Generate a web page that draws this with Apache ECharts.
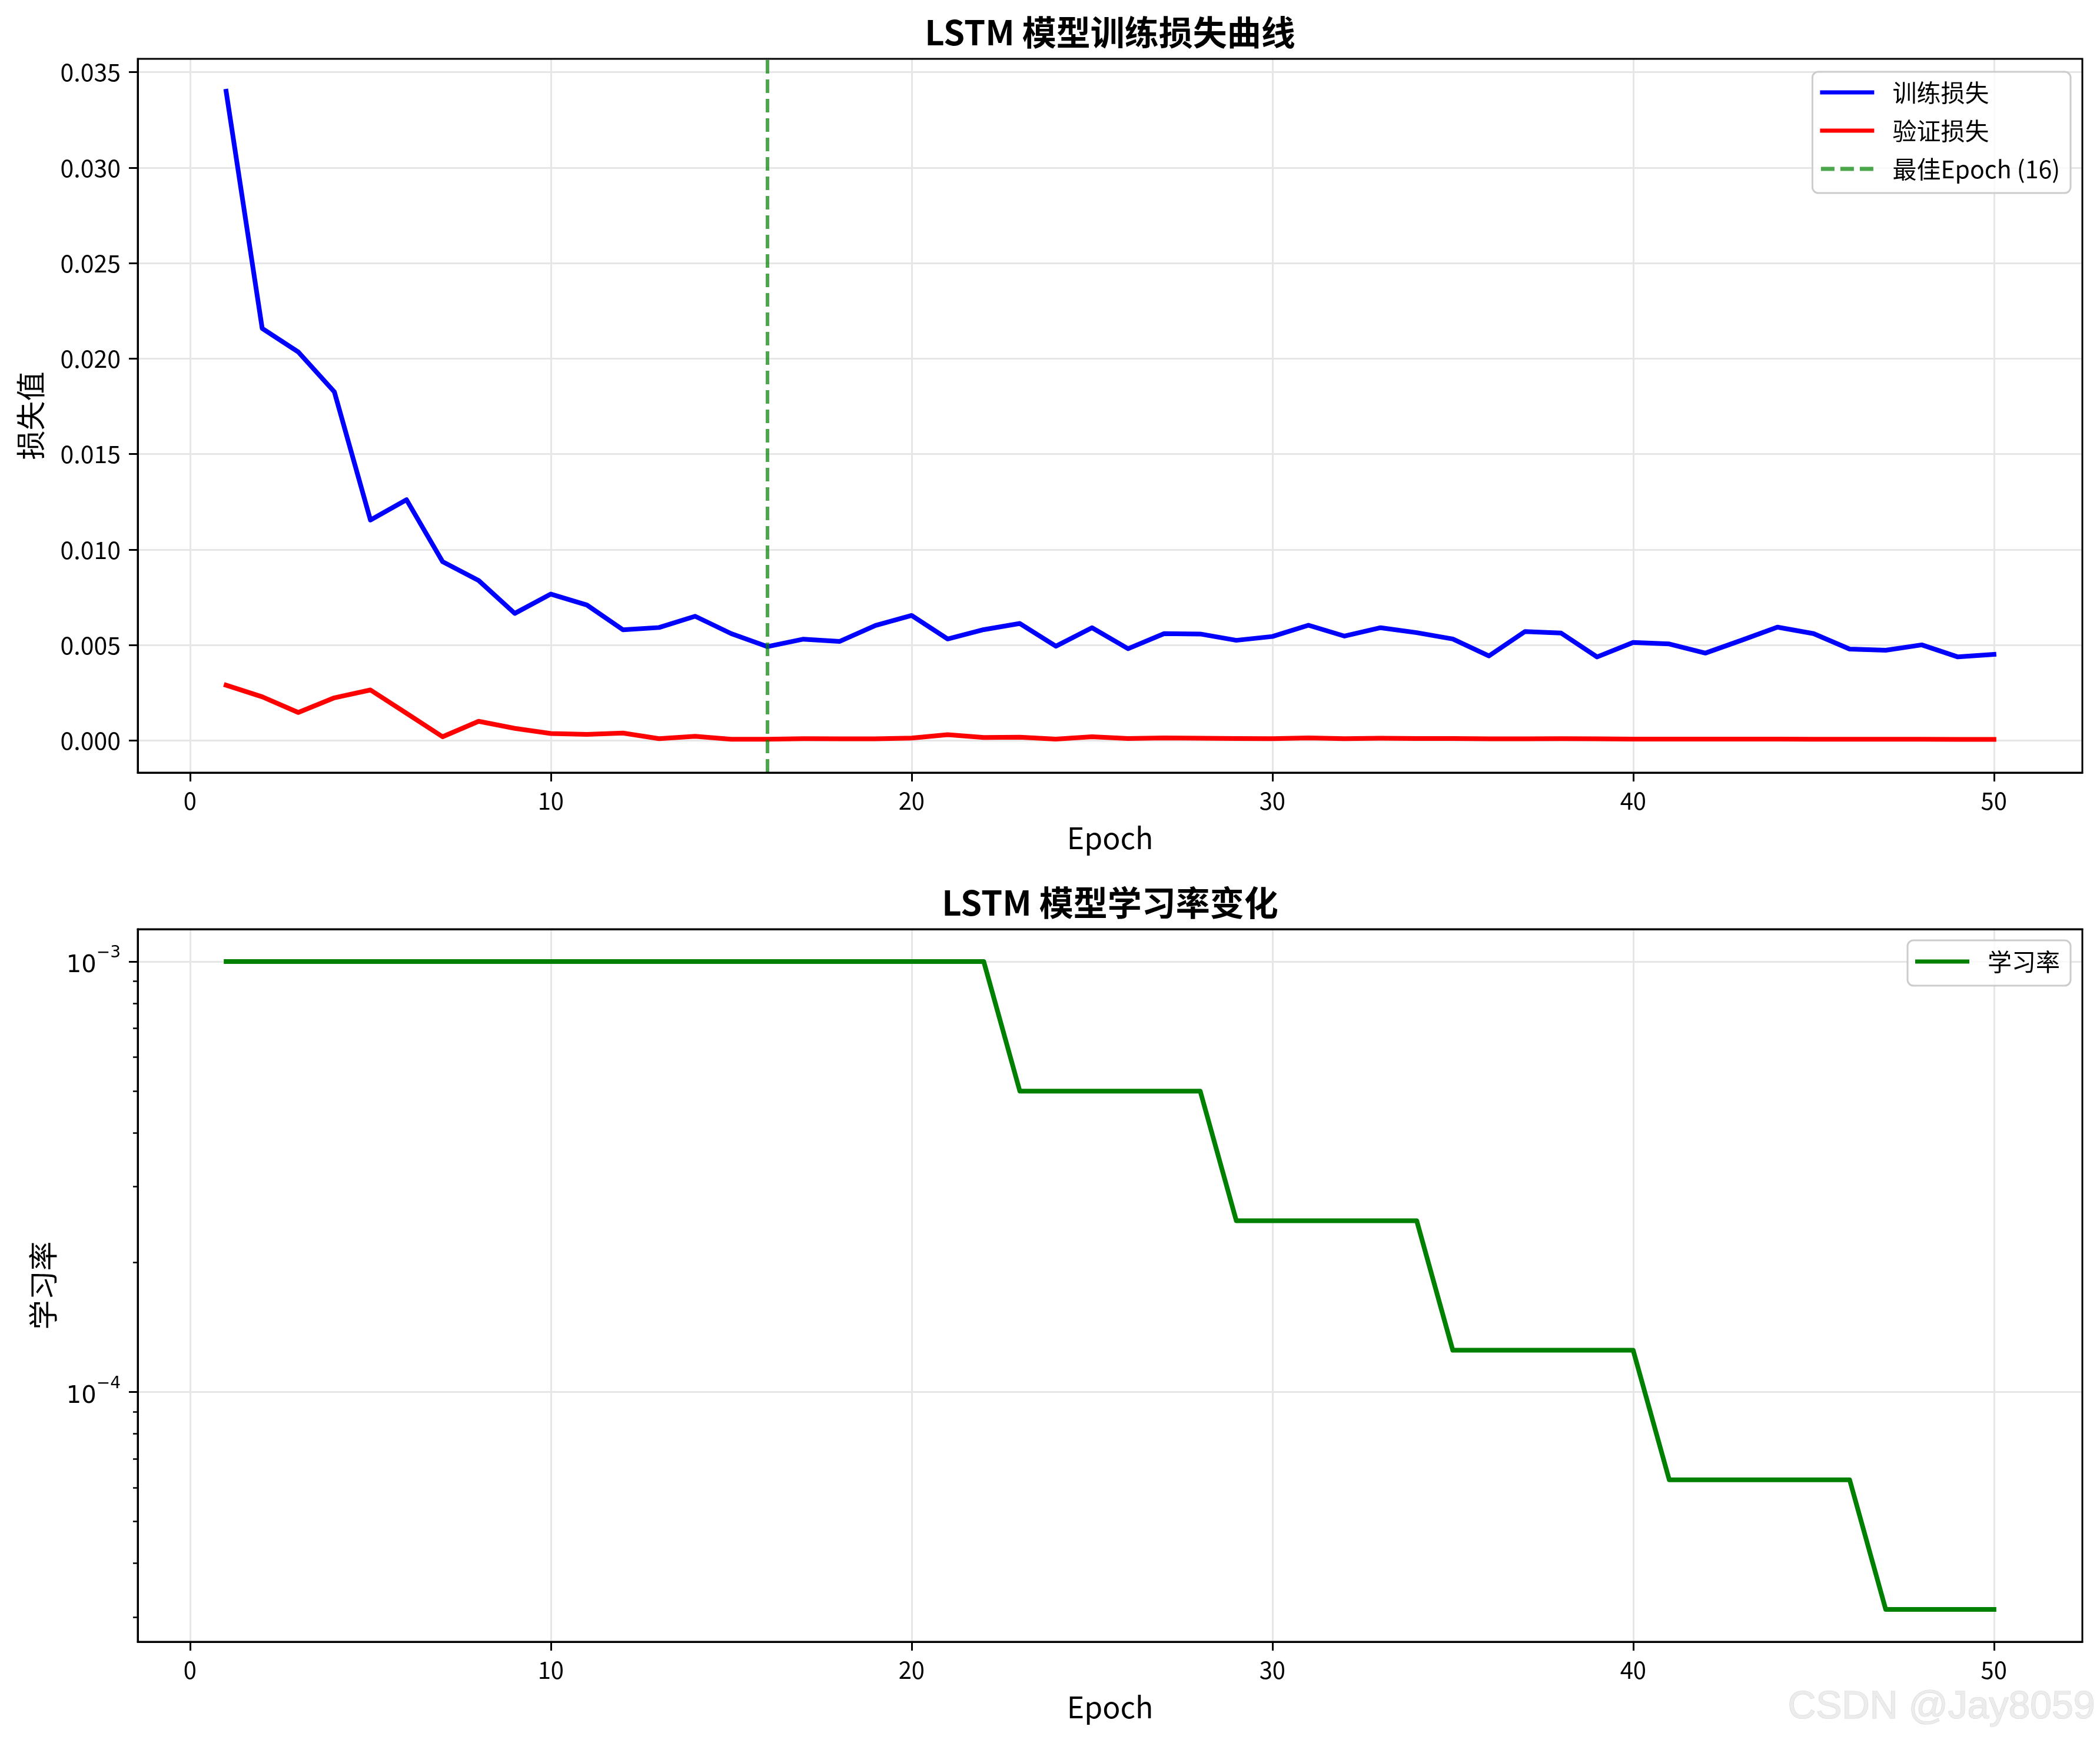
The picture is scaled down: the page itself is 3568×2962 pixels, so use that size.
<!DOCTYPE html>
<html>
<head>
<meta charset="utf-8">
<script src="https://cdn.jsdelivr.net/npm/echarts@6/dist/echarts.min.js"></script>
<style>html,body{margin:0;padding:0;background:#fff;}#c{width:3568px;height:2962px;}</style>
</head>
<body>
<div id="c"></div>
<script>
// ---- data ----
var epochs = [1,2,3,4,5,6,7,8,9,10,11,12,13,14,15,16,17,18,19,20,21,22,23,24,25,26,27,28,29,30,31,32,33,34,35,36,37,38,39,40,41,42,43,44,45,46,47,48,49,50];
var trainLoss = [0.0340,0.02158,0.02035,0.01826,0.01155,0.01261,0.00937,0.00838,0.00666,0.00767,
                 0.00710,0.00580,0.00592,0.00651,0.00560,0.00492,0.00531,0.00519,0.00603,0.00655,
                 0.00532,0.00581,0.00613,0.00494,0.00591,0.00481,0.00560,0.00558,0.00525,0.00545,
                 0.00604,0.00547,0.00591,0.00565,0.00532,0.00443,0.00571,0.00563,0.00438,0.00514,
                 0.00506,0.00458,0.00525,0.00594,0.00560,0.00479,0.00473,0.00501,0.00438,0.00451];
var valLoss = [0.00290,0.00229,0.00147,0.00224,0.00265,0.00143,0.00020,0.00101,0.00064,0.00037,
               0.00032,0.00039,0.00010,0.00022,0.00007,0.00007,0.00010,0.00009,0.00009,0.00013,
               0.00031,0.00016,0.00018,0.00008,0.00020,0.00011,0.00014,0.00012,0.00011,0.00010,
               0.00014,0.00010,0.00012,0.00011,0.00011,0.00009,0.00009,0.00010,0.00009,0.00008,
               0.00008,0.00008,0.00008,0.00008,0.00007,0.00007,0.00007,0.00007,0.00006,0.00006];
var learningRate = [0.001,0.001,0.001,0.001,0.001,0.001,0.001,0.001,0.001,0.001,
                    0.001,0.001,0.001,0.001,0.001,0.001,0.001,0.001,0.001,0.001,
                    0.001,0.001,0.0005,0.0005,0.0005,0.0005,0.0005,0.0005,0.00025,0.00025,
                    0.00025,0.00025,0.00025,0.00025,0.000125,0.000125,0.000125,0.000125,0.000125,0.000125,
                    0.0000625,0.0000625,0.0000625,0.0000625,0.0000625,0.0000625,0.00003125,0.00003125,0.00003125,0.00003125];
var bestEpoch = 16;
var xTicks = [0,10,20,30,40,50];
var lossTicks = [0,0.005,0.010,0.015,0.020,0.025,0.030,0.035];
var lrMinorTicks = [0.00003,0.00004,0.00005,0.00006,0.00007,0.00008,0.00009,0.0002,0.0003,0.0004,0.0005,0.0006,0.0007,0.0008,0.0009];
var titles = ['LSTM 模型训练损失曲线','LSTM 模型学习率变化'];

// ---- layout / style ----
var FONT = '"Noto Sans CJK SC", "Noto Sans", sans-serif';
var LRMIN = 2.628e-5, LRMAX = 1.1893e-3;
var DASH_ICON = 'path://M0,0H23V7H0Z M33,0H56V7H33Z M66,0H89V7H66Z';

function xAxisCfg(gi){
  return {
    type:'value', gridIndex:gi, min:-1.45, max:52.45,
    name:'Epoch', nameLocation:'middle', nameGap:86,
    nameTextStyle:{fontSize:50, color:'#000', fontFamily:FONT},
    axisLine:{show:true, onZero:false, lineStyle:{color:'#000', width:3}},
    axisTick:{show:true, inside:false, length:15, lineStyle:{color:'#000', width:3}, customValues:xTicks},
    axisLabel:{show:true, customValues:xTicks, fontSize:40, color:'#000', margin:28, fontFamily:FONT},
    splitLine:{show:true, lineStyle:{color:'#e6e6e6', width:3}}
  };
}
function topFrameAxis(gi){
  return {type:'value', gridIndex:gi, position:'top', min:-1.45, max:52.45, z:10,
    axisLine:{show:true, onZero:false, lineStyle:{color:'#000', width:3}},
    axisTick:{show:false}, axisLabel:{show:false}, splitLine:{show:false}};
}
function legendCfg(top, pad, items){
  return {orient:'vertical', right:50, top:top, align:'left',
    padding:pad, itemGap:13, itemWidth:92, itemHeight:7,
    backgroundColor:'rgba(255,255,255,0.8)', borderColor:'#cccccc', borderWidth:3, borderRadius:10,
    textStyle:{fontSize:41, color:'#000', fontFamily:FONT, lineHeight:52, padding:[0,0,0,26]},
    data:items, selectedMode:false};
}

var chart = echarts.init(document.getElementById('c'), null, {renderer:'canvas', width:3568, height:2962});

var option = {
  animation:false,
  backgroundColor:'#ffffff',
  title:[
    {text:titles[0], left:1886, top:20, textAlign:'center', padding:0,
     textStyle:{fontSize:58, fontWeight:'bold', color:'#000', fontFamily:FONT, lineHeight:70}},
    {text:titles[1], left:1886, top:1499, textAlign:'center', padding:0,
     textStyle:{fontSize:58, fontWeight:'bold', color:'#000', fontFamily:FONT, lineHeight:70}}
  ],
  grid:[
    {left:234, right:30, top:100, height:1213, show:true, z:10, borderColor:'#000', borderWidth:3, backgroundColor:'transparent', containLabel:false, outerBoundsMode:'none'},
    {left:234, right:30, top:1579, height:1211, show:true, z:10, borderColor:'#000', borderWidth:3, backgroundColor:'transparent', containLabel:false, outerBoundsMode:'none'}
  ],
  xAxis:[xAxisCfg(0), xAxisCfg(1), topFrameAxis(1)],
  yAxis:[
    {type:'value', gridIndex:0, min:-0.00168, max:0.0357,
     name:'损失值', nameLocation:'middle', nameGap:157, nameRotate:90,
     nameTextStyle:{fontSize:50, color:'#000', fontFamily:FONT},
     axisLine:{show:true, onZero:false, lineStyle:{color:'#000', width:3}},
     axisTick:{show:true, inside:false, length:15, lineStyle:{color:'#000', width:3}, customValues:lossTicks},
     axisLabel:{show:true, customValues:lossTicks, fontSize:41, color:'#000', margin:29, fontFamily:FONT,
       formatter:function(v){return v.toFixed(3);}},
     splitLine:{show:true, lineStyle:{color:'#e6e6e6', width:3}}},
    {type:'log', logBase:10, gridIndex:1, min:LRMIN, max:LRMAX,
     name:'学习率', nameLocation:'middle', nameGap:136, nameRotate:90,
     nameTextStyle:{fontSize:50, color:'#000', fontFamily:FONT},
     axisLine:{show:true, onZero:false, lineStyle:{color:'#000', width:3}},
     axisTick:{show:true, inside:false, length:15, lineStyle:{color:'#000', width:3}},
     axisLabel:{show:true, margin:29, showMinLabel:false, showMaxLabel:false,
       formatter:function(v){
         var e = Math.log10(v), r = Math.round(e);
         if (Math.abs(e - r) > 1e-6) return '';
         return '{a|10}{b|\u2212' + (-r) + '}';
       },
       rich:{
         a:{fontSize:40, color:'#000', fontFamily:'"DejaVu Sans", sans-serif', lineHeight:56, verticalAlign:'bottom'},
         b:{fontSize:28, color:'#000', fontFamily:'"DejaVu Sans", sans-serif', lineHeight:56, verticalAlign:'top'}
       }},
     splitLine:{show:true, lineStyle:{color:'#e6e6e6', width:3}}},
    {type:'value', gridIndex:1, min:Math.log10(LRMIN), max:Math.log10(LRMAX), position:'left',
     axisLine:{show:false, onZero:false}, axisLabel:{show:false}, splitLine:{show:false},
     axisTick:{show:true, inside:false, length:8, lineStyle:{color:'#000', width:2.5},
       customValues:lrMinorTicks.map(function(t){return Math.log10(t);})}}
  ],
  legend:[
    legendCfg(122, [9,18,15,13], [
      {name:'训练损失', icon:'rect', itemStyle:{color:'#0000ff'}},
      {name:'验证损失', icon:'rect', itemStyle:{color:'#ff0000'}},
      {name:'最佳Epoch (16)', icon:DASH_ICON, itemStyle:{color:'rgba(0,128,0,0.7)'}}
    ]),
    legendCfg(1598, [10,18,15,13], [
      {name:'学习率', icon:'rect', itemStyle:{color:'#008000'}}
    ])
  ],
  series:[
    {name:'训练损失', type:'line', xAxisIndex:0, yAxisIndex:0, symbol:'none', showSymbol:false,
     lineStyle:{color:'#0000ff', width:8, join:'round', cap:'square'}, itemStyle:{color:'#0000ff'},
     data:epochs.map(function(e,i){return [e, trainLoss[i]];}), z:2},
    {name:'验证损失', type:'line', xAxisIndex:0, yAxisIndex:0, symbol:'none', showSymbol:false,
     lineStyle:{color:'#ff0000', width:8, join:'round', cap:'square'}, itemStyle:{color:'#ff0000'},
     data:epochs.map(function(e,i){return [e, valLoss[i]];}), z:3},
    {name:'最佳Epoch (16)', type:'line', xAxisIndex:0, yAxisIndex:0, symbol:'none', showSymbol:false,
     lineStyle:{color:'rgba(0,128,0,0.7)', width:6, type:[23,10]}, itemStyle:{color:'rgba(0,128,0,0.7)'},
     data:[], z:4,
     markLine:{silent:true, symbol:['none','none'], label:{show:false}, emphasis:{disabled:true},
       lineStyle:{color:'rgba(0,128,0,0.7)', width:6, type:[23,10]},
       data:[{xAxis:bestEpoch}]}},
    {name:'学习率', type:'line', xAxisIndex:1, yAxisIndex:1, symbol:'none', showSymbol:false,
     lineStyle:{color:'#008000', width:8, join:'round', cap:'square'}, itemStyle:{color:'#008000'},
     data:epochs.map(function(e,i){return [e, learningRate[i]];}), z:2}
  ],
  graphic:[
    {type:'text', right:8, top:2868, z:100, silent:true,
     style:{text:'CSDN @Jay8059', fontSize:66, fontFamily:'"Liberation Sans", Arial, sans-serif',
       fill:'#ececec', stroke:'#d6d6d6', lineWidth:1.2}}
  ]
};
chart.setOption(option);
</script>
</body>
</html>
